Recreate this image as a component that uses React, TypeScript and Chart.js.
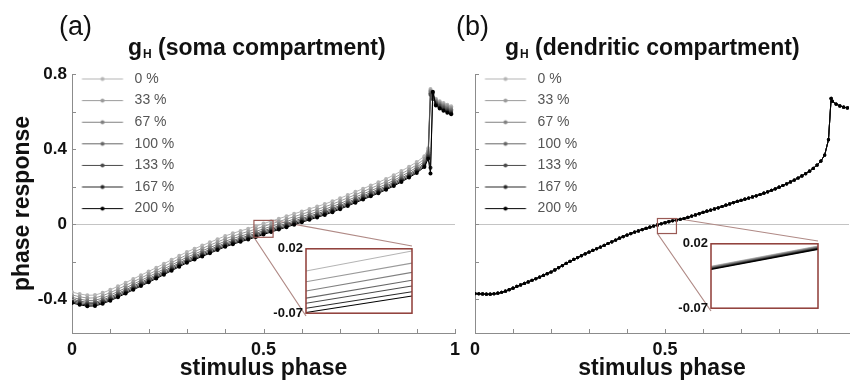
import { useEffect, useRef } from 'react';
import { Chart, registerables } from 'chart.js';

Chart.register(...registerables);

const FONT = "'Liberation Sans', Arial, Helvetica, sans-serif";

// ---------------- data ----------------
const conductanceLevels = ['0 %', '33 %', '67 %', '100 %', '133 %', '167 %', '200 %'];

// (a) g_H in soma compartment
const somaPhase = [0, 0.02, 0.04, 0.06, 0.08, 0.1, 0.12, 0.14, 0.16, 0.18, 0.2, 0.22, 0.24, 0.26, 0.28, 0.3, 0.32, 0.34, 0.36, 0.38, 0.4, 0.42, 0.44, 0.46, 0.48, 0.5, 0.52, 0.54, 0.56, 0.58, 0.6, 0.62, 0.64, 0.66, 0.68, 0.7, 0.72, 0.74, 0.76, 0.78, 0.8, 0.82, 0.84, 0.86, 0.88, 0.9, 0.92, 0.93, 0.936, 0.942, 0.95, 0.96, 0.97, 0.98, 0.99];
const soma0 = [-0.362, -0.372, -0.379, -0.378, -0.366, -0.350, -0.331, -0.312, -0.292, -0.272, -0.252, -0.232, -0.211, -0.190, -0.169, -0.148, -0.131, -0.114, -0.097, -0.080, -0.063, -0.049, -0.036, -0.024, -0.011, 0.003, 0.016, 0.029, 0.042, 0.055, 0.068, 0.081, 0.094, 0.107, 0.122, 0.138, 0.155, 0.172, 0.189, 0.206, 0.223, 0.241, 0.261, 0.283, 0.306, 0.331, 0.362, 0.405, 0.720, 0.690, 0.668, 0.655, 0.645, 0.636, 0.628];
const soma33 = [-0.377, -0.387, -0.394, -0.393, -0.381, -0.365, -0.346, -0.327, -0.307, -0.287, -0.267, -0.247, -0.226, -0.205, -0.184, -0.163, -0.146, -0.129, -0.112, -0.095, -0.078, -0.064, -0.051, -0.039, -0.026, -0.012, 0.001, 0.014, 0.027, 0.040, 0.053, 0.066, 0.079, 0.092, 0.107, 0.123, 0.140, 0.157, 0.174, 0.191, 0.208, 0.226, 0.246, 0.268, 0.291, 0.316, 0.347, 0.392, 0.712, 0.684, 0.662, 0.648, 0.638, 0.629, 0.620];
const soma67 = [-0.390, -0.400, -0.407, -0.406, -0.394, -0.378, -0.359, -0.340, -0.320, -0.300, -0.280, -0.260, -0.239, -0.218, -0.197, -0.176, -0.159, -0.142, -0.125, -0.108, -0.091, -0.077, -0.064, -0.052, -0.039, -0.025, -0.012, 0.001, 0.014, 0.027, 0.040, 0.053, 0.066, 0.079, 0.094, 0.110, 0.127, 0.144, 0.161, 0.178, 0.195, 0.213, 0.233, 0.255, 0.278, 0.303, 0.334, 0.382, 0.705, 0.678, 0.656, 0.642, 0.631, 0.621, 0.612];
const soma100 = [-0.400, -0.410, -0.417, -0.416, -0.404, -0.388, -0.369, -0.350, -0.330, -0.310, -0.290, -0.270, -0.249, -0.228, -0.207, -0.186, -0.169, -0.152, -0.135, -0.118, -0.101, -0.087, -0.074, -0.062, -0.049, -0.035, -0.022, -0.009, 0.004, 0.017, 0.030, 0.043, 0.056, 0.069, 0.084, 0.100, 0.117, 0.134, 0.151, 0.168, 0.185, 0.203, 0.223, 0.245, 0.268, 0.293, 0.324, 0.372, 0.698, 0.672, 0.650, 0.635, 0.624, 0.614, 0.605];
const soma133 = [-0.407, -0.417, -0.424, -0.423, -0.411, -0.395, -0.376, -0.357, -0.337, -0.317, -0.297, -0.277, -0.256, -0.235, -0.214, -0.193, -0.176, -0.159, -0.142, -0.125, -0.108, -0.094, -0.081, -0.069, -0.056, -0.042, -0.029, -0.016, -0.003, 0.010, 0.023, 0.036, 0.049, 0.062, 0.077, 0.093, 0.110, 0.127, 0.144, 0.161, 0.178, 0.196, 0.216, 0.238, 0.261, 0.286, 0.317, 0.364, 0.690, 0.666, 0.644, 0.629, 0.617, 0.607, 0.598];
const soma167 = [-0.414, -0.424, -0.431, -0.430, -0.418, -0.402, -0.383, -0.364, -0.344, -0.324, -0.304, -0.284, -0.263, -0.242, -0.221, -0.200, -0.183, -0.166, -0.149, -0.132, -0.115, -0.101, -0.088, -0.076, -0.063, -0.049, -0.036, -0.023, -0.010, 0.003, 0.016, 0.029, 0.042, 0.055, 0.070, 0.086, 0.103, 0.120, 0.137, 0.154, 0.171, 0.189, 0.209, 0.231, 0.254, 0.279, 0.310, 0.356, 0.300, 0.700, 0.638, 0.622, 0.610, 0.600, 0.591];
const soma200 = [-0.420, -0.430, -0.437, -0.436, -0.424, -0.408, -0.389, -0.370, -0.350, -0.330, -0.310, -0.290, -0.269, -0.248, -0.227, -0.206, -0.189, -0.172, -0.155, -0.138, -0.121, -0.107, -0.094, -0.082, -0.069, -0.055, -0.042, -0.029, -0.016, -0.003, 0.010, 0.023, 0.036, 0.049, 0.064, 0.080, 0.097, 0.114, 0.131, 0.148, 0.165, 0.183, 0.203, 0.225, 0.248, 0.273, 0.304, 0.348, 0.270, 0.705, 0.632, 0.616, 0.604, 0.594, 0.585];

// (b) g_H in dendritic compartment: the seven curves coincide in the picture
const dendriticPhase = [0, 0.01, 0.02, 0.03, 0.04, 0.05, 0.06, 0.07, 0.08, 0.09, 0.1, 0.11, 0.12, 0.13, 0.14, 0.15, 0.16, 0.17, 0.18, 0.19, 0.2, 0.21, 0.22, 0.23, 0.24, 0.25, 0.26, 0.27, 0.28, 0.29, 0.3, 0.31, 0.32, 0.33, 0.34, 0.35, 0.36, 0.37, 0.38, 0.39, 0.4, 0.41, 0.42, 0.43, 0.44, 0.45, 0.46, 0.47, 0.48, 0.49, 0.5, 0.51, 0.52, 0.53, 0.54, 0.55, 0.56, 0.57, 0.58, 0.59, 0.6, 0.61, 0.62, 0.63, 0.64, 0.65, 0.66, 0.67, 0.68, 0.69, 0.7, 0.71, 0.72, 0.73, 0.74, 0.75, 0.76, 0.77, 0.78, 0.79, 0.8, 0.81, 0.82, 0.83, 0.84, 0.85, 0.86, 0.87, 0.88, 0.89, 0.9, 0.91, 0.92, 0.93, 0.937, 0.94, 0.95, 0.96, 0.97, 0.98, 0.99];
const dendriticResponse = [-0.370, -0.371, -0.372, -0.373, -0.373, -0.371, -0.368, -0.363, -0.357, -0.349, -0.341, -0.332, -0.324, -0.316, -0.308, -0.299, -0.291, -0.282, -0.273, -0.264, -0.255, -0.244, -0.232, -0.221, -0.209, -0.198, -0.188, -0.178, -0.168, -0.158, -0.149, -0.140, -0.131, -0.122, -0.113, -0.103, -0.094, -0.085, -0.075, -0.066, -0.058, -0.050, -0.042, -0.036, -0.029, -0.023, -0.016, -0.010, -0.004, 0.002, 0.008, 0.013, 0.018, 0.022, 0.026, 0.030, 0.036, 0.043, 0.049, 0.056, 0.063, 0.069, 0.075, 0.081, 0.087, 0.094, 0.101, 0.108, 0.115, 0.121, 0.127, 0.133, 0.139, 0.145, 0.151, 0.158, 0.165, 0.172, 0.180, 0.188, 0.197, 0.206, 0.215, 0.225, 0.235, 0.246, 0.257, 0.269, 0.282, 0.297, 0.315, 0.336, 0.368, 0.450, 0.670, 0.655, 0.640, 0.630, 0.623, 0.619, 0.616];

// axes
const xTicksA = [0, 0.1, 0.2, 0.3, 0.4, 0.5, 0.6, 0.7, 0.8, 0.9, 1];
const xTickLabelsA = ['0', '', '', '', '', '0.5', '', '', '', '', '1'];
const xTicksB = [0, 0.1, 0.2, 0.3, 0.4, 0.5, 0.6, 0.7, 0.8, 0.9];
const xTickLabelsB = ['0', '', '', '', '', '0.5', '', '', '', ''];
const yTicks = [-0.4, -0.2, 0, 0.2, 0.4, 0.6, 0.8];
const yTickLabels = ['-0.4', '', '0', '', '0.4', '', '0.8'];

// zoomed regions and inset contents
const zoomPhaseA = [0.475, 0.525];
const zoomResponseA = [-0.07, 0.02];
const insetLeftA = [-0.011, -0.026, -0.039, -0.049, -0.056, -0.063, -0.069];
const insetRightA = [0.017, 0.0, -0.013, -0.024, -0.032, -0.040, -0.046];
const zoomPhaseB = [0.48, 0.53];
const zoomResponseB = [-0.05, 0.03];
const insetLeftB = [-0.0115, -0.0122, -0.0129, -0.0136, -0.0143, -0.015, -0.0157];
const insetRightB = [0.0165, 0.0158, 0.0151, 0.0144, 0.0137, 0.013, 0.0123];
const insetYTicks = [-0.07, 0.02];
const insetYLabels = ['-0.07', '0.02'];

// ---------------- styles ----------------
const seriesColors = ['#b4b4b4', '#9a9a9a', '#808080', '#666666', '#4a4a4a', '#282828', '#000000'];
const AXIS = '#8c8c8c';
const ZERO = '#c4c4c4';
const CONNECTOR = '#b08a86';
const RECT = '#9a5a55';
const FRAME = '#8e3b36';
const TEXT = '#111111';

const INSET_A = { left: 306, top: 246, right: 412, bottom: 316 };
const INSET_B = { left: 711, top: 241, right: 818, bottom: 311 };
const INSET_LABEL_W = 40;
const LEGEND_LIFT = 9.6;

const glyphCache = new Map<string, HTMLCanvasElement>();
function legendGlyph(color: string) {
  const hit = glyphCache.get(color);
  if (hit) return hit;
  const c = document.createElement('canvas');
  c.width = 48;
  c.height = 7;
  const g = c.getContext('2d')!;
  g.strokeStyle = color;
  g.lineWidth = 1;
  g.beginPath();
  g.moveTo(2.4, 3.5);
  g.lineTo(43.4, 3.5);
  g.stroke();
  g.fillStyle = color;
  g.beginPath();
  g.arc(22.9, 3.5, 2, 0, Math.PI * 2);
  g.fill();
  glyphCache.set(color, c);
  return c;
}

const legendLift = {
  id: 'legendLift',
  afterLayout(chart: any) {
    const l = chart.legend;
    if (l) {
      const h = l.height;
      l.top = chart.chartArea.top - LEGEND_LIFT;
      l.bottom = l.top + h;
    }
  },
};

const tickMarks = {
  id: 'tickMarks',
  afterDraw(chart: any) {
    const { ctx, chartArea: a, scales } = chart;
    ctx.save();
    ctx.strokeStyle = AXIS;
    ctx.lineWidth = 1;
    ctx.beginPath();
    for (const t of scales.x.ticks) {
      const px = Math.round(scales.x.getPixelForValue(t.value)) + 0.5;
      if (px < a.left + 2 || px > a.right + 1) continue;
      ctx.moveTo(px, a.bottom);
      ctx.lineTo(px, a.bottom - 4);
    }
    for (const t of scales.y.ticks) {
      const py = Math.round(scales.y.getPixelForValue(t.value)) + 0.5;
      if (py < a.top - 1 || py > a.bottom - 2) continue;
      ctx.moveTo(a.left, py);
      ctx.lineTo(a.left + 4, py);
    }
    ctx.stroke();
    ctx.restore();
  },
};

function zoomGuide(zx: number[], zy: number[], box: { left: number; top: number; right: number; bottom: number }) {
  const corners = (chart: any) => {
    const { x, y } = chart.scales;
    return {
      x0: x.getPixelForValue(zx[0]),
      x1: x.getPixelForValue(zx[1]),
      y0: y.getPixelForValue(zy[0]),
      y1: y.getPixelForValue(zy[1]),
    };
  };
  return {
    id: 'zoomGuide',
    beforeDatasetsDraw(chart: any) {
      const { ctx } = chart;
      const c = corners(chart);
      ctx.save();
      ctx.strokeStyle = CONNECTOR;
      ctx.lineWidth = 1.2;
      ctx.beginPath();
      ctx.moveTo(c.x1, c.y1);
      ctx.lineTo(box.right, box.top);
      ctx.moveTo(c.x0, c.y0);
      ctx.lineTo(box.left, box.bottom);
      ctx.stroke();
      ctx.restore();
    },
    afterDatasetsDraw(chart: any) {
      const { ctx } = chart;
      const c = corners(chart);
      ctx.save();
      ctx.strokeStyle = RECT;
      ctx.lineWidth = 1.2;
      ctx.strokeRect(c.x0, c.y1, c.x1 - c.x0, c.y0 - c.y1);
      ctx.restore();
    },
  };
}

const insetFrame = {
  id: 'insetFrame',
  beforeDatasetsDraw(chart: any) {
    const { ctx, chartArea: a } = chart;
    ctx.save();
    ctx.fillStyle = '#ffffff';
    ctx.fillRect(a.left, a.top, a.width, a.height);
    ctx.restore();
  },
  afterDatasetsDraw(chart: any) {
    const { ctx, chartArea: a } = chart;
    ctx.save();
    ctx.strokeStyle = FRAME;
    ctx.lineWidth = 1.5;
    ctx.strokeRect(a.left, a.top, a.width, a.height);
    ctx.restore();
  },
};

type Spec = {
  phase: number[];
  series: number[][];
  xMax: number;
  xTicks: number[];
  xTickLabels: string[];
  padding: { left: number; right: number; top: number; bottom: number };
  showY: boolean;
  zoomX: number[];
  zoomY: number[];
  inset: { left: number; top: number; right: number; bottom: number };
  pointRadius: number;
};

function panelConfig(s: Spec): any {
  const datasets = conductanceLevels
    .map((label, i) => ({
      label,
      data: s.phase.map((x, j) => ({ x, y: s.series[i][j] })),
      borderColor: seriesColors[i],
      backgroundColor: seriesColors[i],
      pointBackgroundColor: seriesColors[i],
      borderWidth: 1,
      pointRadius: s.pointRadius,
      pointBorderWidth: 0,
      tension: 0,
    }))
    .reverse();
  return {
    type: 'line',
    data: { datasets },
    options: {
      responsive: false,
      animation: false,
      events: [],
      layout: { padding: s.padding },
      plugins: {
        tooltip: { enabled: false },
        legend: {
          position: 'chartArea',
          align: 'start',
          reverse: true,
          labels: {
            usePointStyle: true,
            pointStyleWidth: 48,
            padding: 7.6,
            color: '#555555',
            font: { size: 14, family: FONT },
            generateLabels: (chart: any) => {
              const items = (Chart as any).defaults.plugins.legend.labels.generateLabels(chart);
              return items.map((it: any) => ({
                ...it,
                pointStyle: legendGlyph(chart.data.datasets[it.datasetIndex].borderColor),
              }));
            },
          },
        },
      },
      scales: {
        x: {
          type: 'linear',
          min: 0,
          max: s.xMax,
          afterBuildTicks: (sc: any) => {
            sc.ticks = s.xTicks.map((v) => ({ value: v }));
          },
          afterFit: (sc: any) => {
            sc.height = 51;
          },
          grid: { display: false, drawTicks: false },
          border: { display: true, color: AXIS, width: 1 },
          ticks: {
            autoSkip: false,
            maxRotation: 0,
            padding: 6,
            color: TEXT,
            font: { size: 18, weight: 'bold', family: FONT },
            callback: (_v: any, i: number) => s.xTickLabels[i],
          },
          title: {
            display: true,
            text: 'stimulus phase',
            color: TEXT,
            font: { size: 23, weight: 'bold', family: FONT },
            padding: { top: 0, bottom: 2 },
          },
        },
        y: {
          type: 'linear',
          min: -0.58,
          max: 0.8,
          afterBuildTicks: (sc: any) => {
            sc.ticks = yTicks.map((v) => ({ value: v }));
          },
          afterFit: (sc: any) => {
            sc.width = s.showY ? 64 : 0;
          },
          grid: {
            display: true,
            drawTicks: false,
            color: (ctx: any) => (ctx.tick && ctx.tick.value === 0 ? ZERO : 'rgba(0,0,0,0)'),
          },
          border: { display: true, color: AXIS, width: 1 },
          ticks: {
            display: s.showY,
            padding: 5,
            color: TEXT,
            font: { size: 17, weight: 'bold', family: FONT },
            callback: (_v: any, i: number) => yTickLabels[i],
          },
          title: {
            display: s.showY,
            text: 'phase response',
            color: TEXT,
            font: { size: 23, weight: 'bold', family: FONT },
            padding: { top: 1, bottom: 0 },
          },
        },
      },
    },
    plugins: [legendLift, tickMarks, zoomGuide(s.zoomX, s.zoomY, s.inset)],
  };
}

function insetConfig(zx: number[], left: number[], right: number[], lineWidth: number): any {
  const datasets = conductanceLevels
    .map((label, i) => ({
      label,
      data: [
        { x: zx[0], y: left[i] },
        { x: zx[1], y: right[i] },
      ],
      borderColor: seriesColors[i],
      borderWidth: lineWidth,
      pointRadius: 0,
    }))
    .reverse();
  return {
    type: 'line',
    data: { datasets },
    options: {
      responsive: false,
      animation: false,
      events: [],
      layout: { padding: { left: 0, right: 2, top: 8, bottom: 8 } },
      plugins: { legend: { display: false }, tooltip: { enabled: false } },
      scales: {
        x: { type: 'linear', min: zx[0], max: zx[1], display: false },
        y: {
          type: 'linear',
          min: insetYTicks[0],
          max: insetYTicks[1],
          afterBuildTicks: (sc: any) => {
            sc.ticks = insetYTicks.map((v) => ({ value: v }));
          },
          afterFit: (sc: any) => {
            sc.width = INSET_LABEL_W;
          },
          grid: { display: false, drawTicks: false },
          border: { display: false },
          ticks: {
            padding: 3,
            color: TEXT,
            font: { size: 13, weight: 'bold', family: FONT },
            callback: (_v: any, i: number) => insetYLabels[i],
          },
        },
      },
    },
    plugins: [insetFrame],
  };
}

const titleStyle: any = {
  position: 'absolute',
  fontSize: 23,
  fontWeight: 'bold',
  lineHeight: 1,
  whiteSpace: 'nowrap',
  color: TEXT,
};
const letterStyle: any = {
  position: 'absolute',
  fontSize: 27,
  lineHeight: 1,
  whiteSpace: 'nowrap',
  color: TEXT,
};
const subStyle: any = { fontSize: 12, position: 'relative', top: 3, marginLeft: 1 };

export default function App() {
  const aRef = useRef<HTMLCanvasElement>(null);
  const bRef = useRef<HTMLCanvasElement>(null);
  const iaRef = useRef<HTMLCanvasElement>(null);
  const ibRef = useRef<HTMLCanvasElement>(null);

  useEffect(() => {
    (Chart as any).defaults.font.family = FONT;
    const charts = [
      new Chart(
        aRef.current!,
        panelConfig({
          phase: somaPhase,
          series: [soma0, soma33, soma67, soma100, soma133, soma167, soma200],
          xMax: 1,
          xTicks: xTicksA,
          xTickLabels: xTickLabelsA,
          padding: { left: 8, right: 398, top: 74, bottom: 0 },
          showY: true,
          zoomX: zoomPhaseA,
          zoomY: zoomResponseA,
          inset: INSET_A,
          pointRadius: 2,
        })
      ),
      new Chart(
        bRef.current!,
        panelConfig({
          phase: dendriticPhase,
          series: conductanceLevels.map(() => dendriticResponse),
          xMax: 0.984,
          xTicks: xTicksB,
          xTickLabels: xTickLabelsB,
          padding: { left: 475, right: 0, top: 74, bottom: 0 },
          showY: false,
          zoomX: zoomPhaseB,
          zoomY: zoomResponseB,
          inset: INSET_B,
          pointRadius: 1.6,
        })
      ),
      new Chart(iaRef.current!, insetConfig(zoomPhaseA, insetLeftA, insetRightA, 1.1)),
      new Chart(ibRef.current!, insetConfig(zoomPhaseB, insetLeftB, insetRightB, 1.4)),
    ];
    return () => charts.forEach((c) => c.destroy());
  }, []);

  const insetW = (b: any) => INSET_LABEL_W + (b.right - b.left) + 2;
  const insetH = (b: any) => b.bottom - b.top + 16;

  return (
    <div
      style={{
        position: 'fixed',
        left: 0,
        top: 0,
        width: 853,
        height: 384,
        background: '#ffffff',
        overflow: 'hidden',
        fontFamily: FONT,
      }}
    >
      <canvas ref={aRef} width={853} height={384} style={{ position: 'absolute', left: 0, top: 0 }} />
      <canvas ref={bRef} width={853} height={384} style={{ position: 'absolute', left: 0, top: 0 }} />
      <canvas
        ref={iaRef}
        width={insetW(INSET_A)}
        height={insetH(INSET_A)}
        style={{ position: 'absolute', left: INSET_A.left - INSET_LABEL_W, top: INSET_A.top - 8 }}
      />
      <canvas
        ref={ibRef}
        width={insetW(INSET_B)}
        height={insetH(INSET_B)}
        style={{ position: 'absolute', left: INSET_B.left - INSET_LABEL_W, top: INSET_B.top - 8 }}
      />
      <div style={{ ...letterStyle, left: 59, top: 13 }}>(a)</div>
      <div style={{ ...titleStyle, left: 128, top: 36 }}>
        g<span style={subStyle}>H</span> (soma compartment)
      </div>
      <div style={{ ...letterStyle, left: 456, top: 13 }}>(b)</div>
      <div style={{ ...titleStyle, left: 505, top: 36 }}>
        g<span style={subStyle}>H</span> (dendritic compartment)
      </div>
    </div>
  );
}
